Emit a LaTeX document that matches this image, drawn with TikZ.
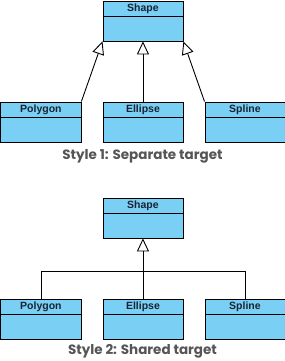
\documentclass[tikz,border=0pt]{standalone}
\usepackage{fontspec}
\setmainfont{Liberation Sans}
\newfontfamily\capfont{Poppins}
\usetikzlibrary{arrows.meta}
\definecolor{boxblue}{RGB}{122,207,245}
\definecolor{captxt}{RGB}{85,85,85}
\definecolor{boxtxt}{RGB}{25,35,50}
\tikzset{
  umlbox/.style={draw=black, line width=0.9bp, fill=boxblue, minimum width=80bp, minimum height=40bp, inner sep=0pt, anchor=north west},
  umlhdr/.style={draw=black, line width=0.9bp, minimum width=80bp, minimum height=15bp, inner sep=0pt, anchor=north, text=boxtxt, font=\fontsize{10.5bp}{12bp}\selectfont\bfseries},
  caption/.style={text=captxt, font=\capfont\fontsize{13.5bp}{15bp}\selectfont\bfseries},
  gen/.style={line width=0.9bp, -{Triangle[length=13bp,width=12bp,fill=white,line width=0.9bp]}},
  conn/.style={line width=0.9bp}
}
\begin{document}
\begin{tikzpicture}[x=1bp,y=-1bp]
\useasboundingbox (0,0) rectangle (285,361);
% Style 1
\node[umlbox] (sA) at (102.5,0.5) {};
\node[umlhdr] (sAh) at (sA.north) {Shape};
\node[umlbox] (pA) at (0.5,101.5) {};
\node[umlhdr] (pAh) at (pA.north) {Polygon};
\node[umlbox] (eA) at (102.5,101.5) {};
\node[umlhdr] (eAh) at (eA.north) {Ellipse};
\node[umlbox] (spA) at (204.5,101.5) {};
\node[umlhdr] (spAh) at (spA.north) {Spline};
\draw[gen] (pA.north east) -- (sA.south west);
\draw[gen] (eA.north) -- (sA.south);
\draw[gen] (spA.north west) -- (sA.south east);
\node[caption] (capA) at (142.5,156.5) {Style 1: Separate target};
% Style 2
\node[umlbox] (sB) at (102.5,197.5) {};
\node[umlhdr] (sBh) at (sB.north) {Shape};
\node[umlbox] (pB) at (0.5,298.5) {};
\node[umlhdr] (pBh) at (pB.north) {Polygon};
\node[umlbox] (eB) at (102.5,298.5) {};
\node[umlhdr] (eBh) at (eB.north) {Ellipse};
\node[umlbox] (spB) at (204.5,298.5) {};
\node[umlhdr] (spBh) at (spB.north) {Spline};
\coordinate (jB) at (142.5,271.5);
\draw[gen] (eB.north) -- (sB.south);
\draw[conn] (pB.north) |- (jB) -| (spB.north);
\node[caption] (capB) at (142.5,351.5) {Style 2: Shared target};
\end{tikzpicture}
\end{document}
